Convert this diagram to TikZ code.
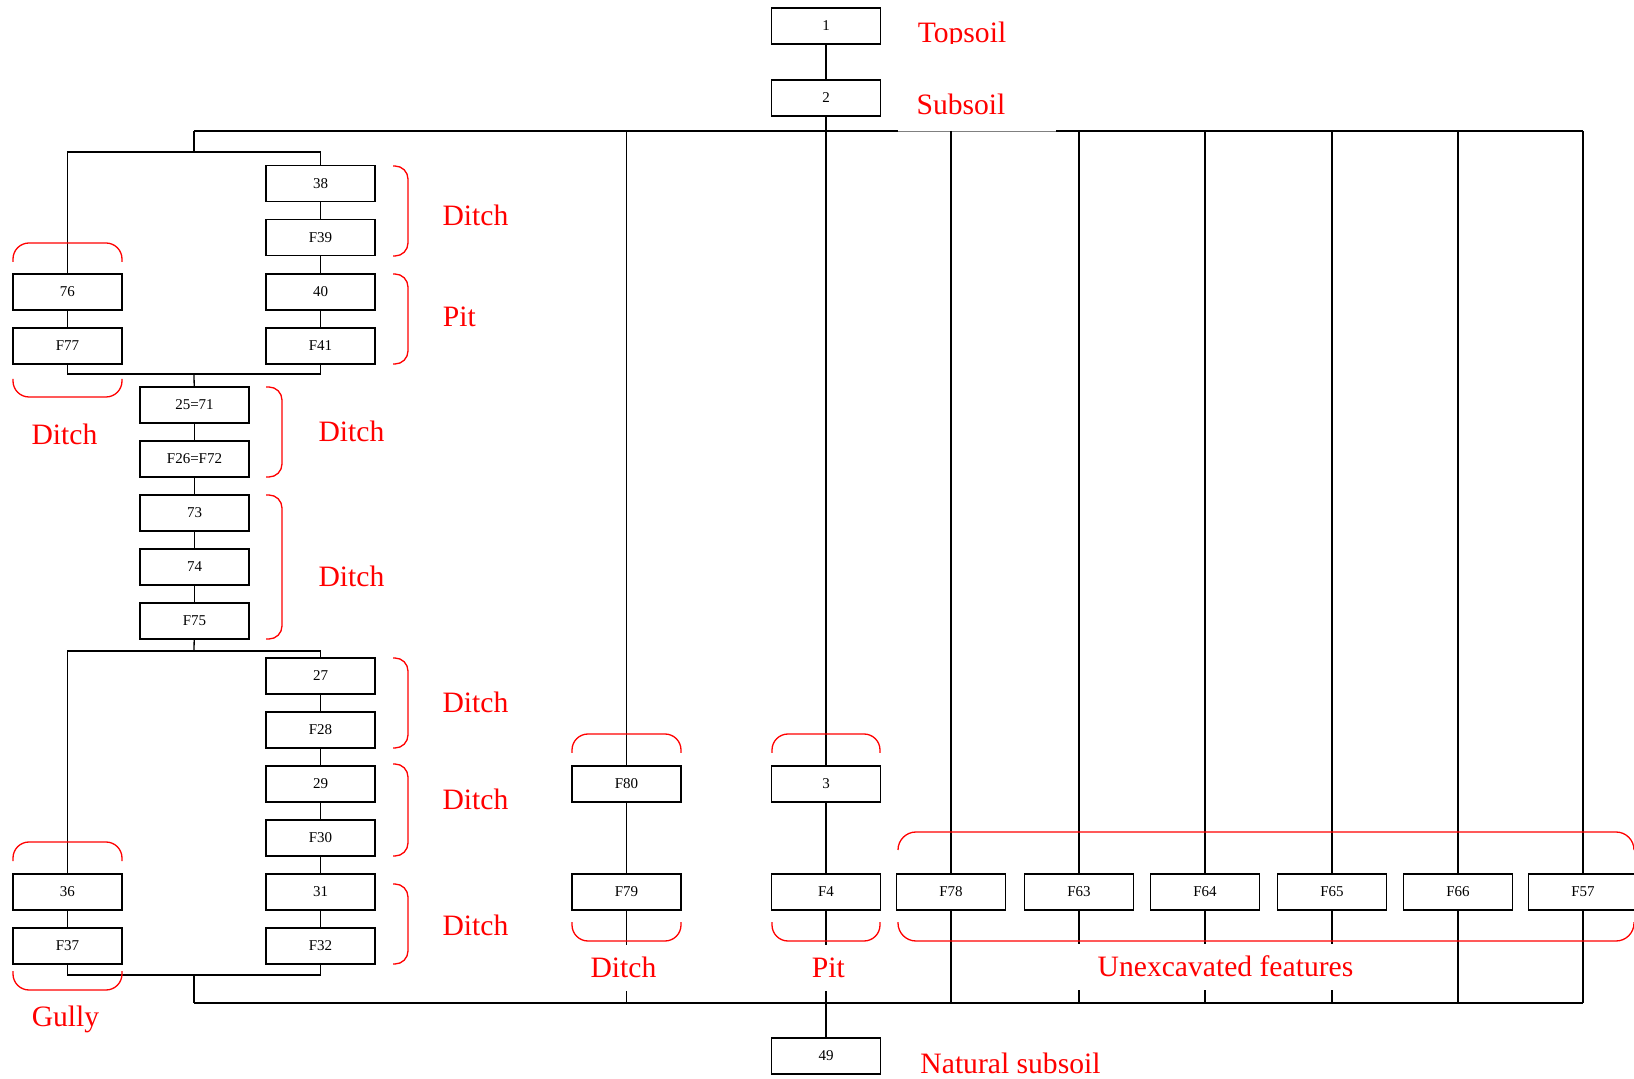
\documentclass[tikz,border=0pt]{standalone}
\usepackage{fontspec}
\setmainfont{Liberation Serif}
\begin{document}
\begin{tikzpicture}[x=0.5pt,y=-0.5pt,
  unit/.style={draw=black, line width=0.65pt, fill=white, minimum width=54.5pt,
    minimum height=18pt, inner sep=0pt, font=\fontsize{7.5}{9}\selectfont},
  link/.style={line width=0.65pt},
  tag/.style={text=red, anchor=base, inner sep=0pt, font=\fontsize{14.8}{16}\selectfont},
  tagcut/.style={tag, fill=white, text height=12pt, text depth=3pt, inner ysep=4pt, inner xsep=3pt},
  bracket/.style={red, line width=0.65pt, rounded corners=6.5pt},
  hood/.style={red, line width=0.65pt, rounded corners=8pt}]
\clip (0,0) rectangle (1634,1079);

% ---- contexts ----
\node[unit] (n1) at (826,26) {1};
\node[unit] (n2) at (826,98) {2};

\node[unit] (n38)  at (320.5,183.5) {38};
\node[unit] (nF39) at (320.5,237.5) {F39};
\node[unit] (n40)  at (320.5,292) {40};
\node[unit] (nF41) at (320.5,346) {F41};
\node[unit] (n76)  at (67.5,292) {76};
\node[unit] (nF77) at (67.5,346) {F77};

\node[unit] (n2571) at (194.5,405) {25=71};
\node[unit] (nF26)  at (194.5,459) {F26=F72};
\node[unit] (n73)   at (194.5,513) {73};
\node[unit] (n74)   at (194.5,567) {74};
\node[unit] (nF75)  at (194.5,621) {F75};

\node[unit] (n27)  at (320.5,676) {27};
\node[unit] (nF28) at (320.5,730) {F28};
\node[unit] (n29)  at (320.5,784) {29};
\node[unit] (nF30) at (320.5,838) {F30};
\node[unit] (n31)  at (320.5,892) {31};
\node[unit] (nF32) at (320.5,946) {F32};
\node[unit] (n36)  at (67.5,892) {36};
\node[unit] (nF37) at (67.5,946) {F37};

\node[unit] (nF80) at (626.5,784) {F80};
\node[unit] (nF79) at (626.5,892) {F79};
\node[unit] (n3)   at (826,784) {3};
\node[unit] (nF4)  at (826,892) {F4};

\node[unit] (nF78) at (951,892) {F78};
\node[unit] (nF63) at (1079,892) {F63};
\node[unit] (nF64) at (1205,892) {F64};
\node[unit] (nF65) at (1332,892) {F65};
\node[unit] (nF66) at (1458,892) {F66};
\node[unit] (nF57) at (1583,892) {F57};

\node[unit] (n49) at (826,1056) {49};

% ---- buses ----
\coordinate (busL) at (194,131);
\coordinate (busR) at (1583,131);
\coordinate (bbusL) at (194,1003);
\coordinate (bbusR) at (1583,1003);

\draw[link] (busL) -- (898,131) (1056,131) -- (busR);
\draw[gray, line width=0.3pt] (898,131.5) -- (1056,131.5);
\draw[link] (bbusL) -- (bbusR);

% ---- central sequence ----
\draw[link] (n1) -- (n2);
\draw[link] (n2) -- (n3);
\draw[link] (n3) -- (nF4);
\draw[link] (nF4) -- (n49);

% ---- left group ----
\coordinate (s1) at (194,152);
\coordinate (j1) at (194,374);
\draw[link] (busL) -- (s1);
\draw[link] (s1) -| (n76);
\draw[link] (s1) -| (n38);
\draw[link] (n38) -- (nF39);
\draw[link] (nF39) -- (n40);
\draw[link] (n40) -- (nF41);
\draw[link] (n76) -- (nF77);
\draw[link] (nF77) |- (j1);
\draw[link] (nF41) |- (j1);
\draw[link] (j1) -- (n2571);
\draw[link] (n2571) -- (nF26);
\draw[link] (nF26) -- (n73);
\draw[link] (n73) -- (n74);
\draw[link] (n74) -- (nF75);

\coordinate (s2) at (194,651);
\coordinate (j2) at (194,975);
\draw[link] (nF75) -- (s2);
\draw[link] (s2) -| (n36);
\draw[link] (s2) -| (n27);
\draw[link] (n27) -- (nF28);
\draw[link] (nF28) -- (n29);
\draw[link] (n29) -- (nF30);
\draw[link] (nF30) -- (n31);
\draw[link] (n31) -- (nF32);
\draw[link] (n36) -- (nF37);
\draw[link] (nF37) |- (j2);
\draw[link] (nF32) |- (j2);
\draw[link] (j2) -- (bbusL);

% ---- ditch column ----
\draw[link] (nF80.north |- busL) -- (nF80);
\draw[link] (nF80) -- (nF79);
\draw[link] (nF79) -- (nF79.south |- bbusL);

% ---- unexcavated features ----
\foreach \f in {nF78,nF63,nF64,nF65,nF66,nF57}{
  \draw[link] (\f.north |- busL) -- (\f);
  \draw[link] (\f) -- (\f.south |- bbusL);
}

% ---- labels ----
\begin{scope}
  \clip (900,0) rectangle (1020,44);
  \node[tag] (tTop) at (962,42.5) {Topsoil};
\end{scope}
\node[tag] (tSub) at (961,115) {Subsoil};
\node[tag] (tD1) at (475.5,226) {Ditch};
\node[tag] (tP1) at (459.4,327) {Pit};
\node[tag] (tD2) at (64.5,445) {Ditch};
\node[tag] (tD3) at (351.5,442) {Ditch};
\node[tag] (tD4) at (351.5,587) {Ditch};
\node[tag] (tD5) at (475.5,712) {Ditch};
\node[tag] (tD6) at (475.5,809) {Ditch};
\node[tag] (tD7) at (475.5,935) {Ditch};
\node[tag] (tG)  at (65.5,1026) {Gully};
\node[tagcut] (tD8) at (623.5,977) {Ditch};
\node[tagcut] (tP2) at (828.4,977) {Pit};
\node[tagcut, inner xsep=11pt] (tU) at (1225.5,976) {Unexcavated features};
\node[tag] (tN) at (1010.5,1073) {Natural subsoil};

% ---- grouping brackets ----
\draw[bracket] (393,166) -- (408,166) -- (408,256) -- (393,256);
\draw[bracket] (393,274) -- (408,274) -- (408,364) -- (393,364);
\draw[bracket] (266,387) -- (282,387) -- (282,477) -- (266,477);
\draw[bracket] (266,495) -- (282,495) -- (282,639) -- (266,639);
\draw[bracket] (393,658) -- (408,658) -- (408,748) -- (393,748);
\draw[bracket] (393,764) -- (408,764) -- (408,856) -- (393,856);
\draw[bracket] (393,884) -- (408,884) -- (408,964) -- (393,964);

\draw[hood] (13,262) -- (13,243) -- (122,243) -- (122,262);
\draw[hood] (13,379) -- (13,397) -- (122,397) -- (122,379);
\draw[hood] (13,861) -- (13,842) -- (122,842) -- (122,861);
\draw[hood] (13,971) -- (13,990) -- (122,990) -- (122,971);
\draw[hood] (572,753) -- (572,734) -- (681,734) -- (681,753);
\draw[hood] (572,922) -- (572,941) -- (681,941) -- (681,922);
\draw[hood] (772,753) -- (772,734) -- (880,734) -- (880,753);
\draw[hood] (772,922) -- (772,941) -- (880,941) -- (880,922);
\draw[hood, rounded corners=9pt] (898,850) -- (898,832) -- (1634,832) -- (1634,850);
\draw[hood, rounded corners=9pt] (898,922) -- (898,941) -- (1634,941) -- (1634,922);
\end{tikzpicture}
\end{document}
